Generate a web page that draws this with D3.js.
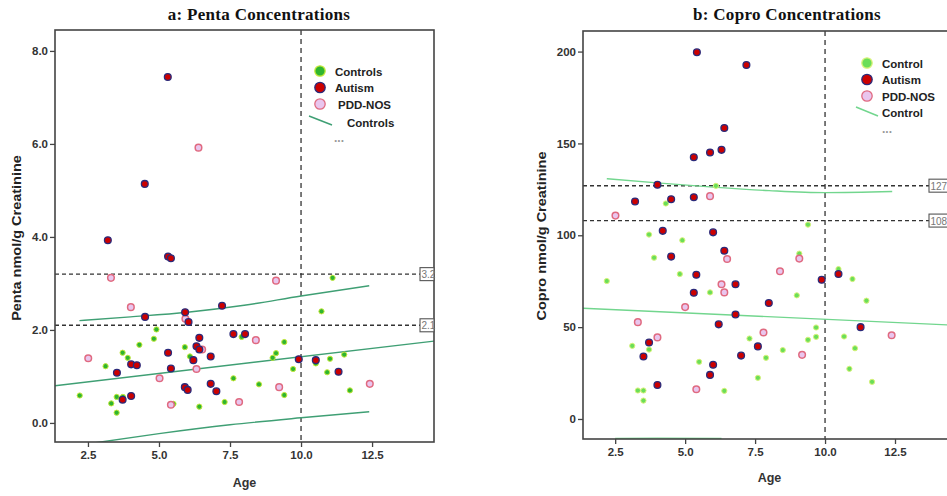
<!DOCTYPE html>
<html>
<head>
<meta charset="utf-8">
<script src="https://cdn.jsdelivr.net/npm/d3@7"></script>
<style>
  body { margin: 0; background: #fff; }
  svg { display: block; }
</style>
</head>
<body>
<div id="chart"></div>
<script>

  // ---- data: [age, value] ----
  var pentaControls = [
    [2.21,0.59],[3.12,1.22],[3.32,0.42],[3.51,0.56],[3.51,0.22],[3.72,1.51],[3.73,0.56],
    [3.90,1.40],[4.31,1.68],[4.82,1.81],[4.91,2.01],[5.51,0.41],[5.91,1.63],[6.09,1.43],
    [6.42,0.35],[7.31,0.45],[7.62,0.96],[7.91,1.85],[8.52,0.83],[9.00,1.40],[9.12,1.50],
    [9.41,1.74],[9.41,0.60],[9.72,1.16],[10.72,2.40],[10.52,1.28],[10.92,1.09],[11.02,1.38],
    [11.11,3.12],[11.52,1.47],[11.72,0.70]
  ];
  var pentaAutism = [
    [5.31,7.44],[4.50,5.14],[3.20,3.93],[5.32,3.58],[5.42,3.54],[4.51,2.28],[3.52,1.08],
    [3.72,0.50],[4.02,1.26],[4.22,1.24],[4.02,0.58],[5.32,1.51],[5.42,1.17],[5.92,2.38],
    [6.04,2.17],[5.91,0.77],[6.01,0.71],[6.21,1.35],[6.32,1.65],[6.42,1.83],[6.42,1.58],
    [6.82,1.43],[6.82,0.84],[7.02,0.68],[7.22,2.52],[7.62,1.91],[8.03,1.91],[9.92,1.37],
    [10.52,1.35],[11.32,1.10]
  ];
  var pentaPdd = [
    [6.39,5.92],[2.51,1.39],[3.31,3.12],[4.01,2.49],[5.02,0.96],[5.42,0.39],[5.93,2.24],
    [6.32,1.16],[6.52,1.58],[7.82,0.45],[8.41,1.78],[9.12,3.06],[9.23,0.77],[12.42,0.84]
  ];
  var pentaFit   = [[1.34,0.80],[14.68,1.76]];
  var pentaUpper = [[2.2,2.20],[4,2.28],[6,2.38],[8,2.53],[10,2.73],[12.4,2.95]];
  var pentaLower = [[2.6,-0.44],[5,-0.23],[7.5,-0.04],[10,0.11],[12.4,0.24]];
  var pentaCutoffs = [3.2, 2.1];
  var pentaTicks = [0, 2, 4, 6, 8];

  var coproControls = [
    [6.10,126.9],[4.31,117.3],[3.71,100.4],[4.90,97.3],[9.39,105.8],[2.20,75.1],[3.89,87.8],
    [4.81,78.9],[5.89,68.9],[9.08,90.0],[8.99,67.3],[10.48,81.6],[10.98,76.2],[11.48,64.4],
    [3.11,39.8],[3.71,37.8],[3.31,15.5],[3.51,15.5],[3.51,10.0],[5.50,31.1],[6.40,15.3],
    [7.30,43.8],[7.60,22.4],[7.89,33.3],[8.49,37.5],[9.39,43.1],[9.68,49.8],[9.68,44.7],
    [10.68,44.9],[11.07,38.5],[10.87,27.3],[11.68,20.2]
  ];
  var coproAutism = [
    [5.42,199.6],[7.19,192.7],[6.40,158.4],[5.31,142.5],[5.89,145.1],[6.30,146.5],[4.01,127.5],
    [3.21,118.4],[4.50,119.6],[5.31,120.7],[4.20,102.4],[6.00,101.6],[4.50,88.4],[6.40,91.6],
    [5.40,78.5],[5.31,68.7],[6.80,73.3],[6.80,56.9],[7.99,63.1],[6.20,51.5],[3.71,41.6],
    [3.51,34.0],[7.00,34.5],[7.60,39.5],[6.00,29.5],[5.89,24.0],[4.01,18.5],[9.88,75.8],
    [10.48,78.9],[11.27,50.0]
  ];
  var coproPdd = [
    [2.51,110.7],[5.89,121.3],[6.50,87.1],[6.30,73.3],[6.40,68.9],[5.00,60.9],[3.31,52.7],
    [4.01,44.4],[7.80,47.1],[8.39,80.4],[9.08,87.3],[9.18,34.9],[5.40,16.2],[12.38,45.6]
  ];
  var coproFit   = [[1.35,60.3],[14.68,51.0]];
  var coproUpper = [[2.2,130.8],[4,128.5],[6,126.2],[8,124.3],[10,123.2],[12.4,123.8]];
  var coproLower = [[2.5,-10.6],[4,-10.4],[6.3,-10.6]];
  var coproCutoffs = [127, 108];
  var coproTicks = [0, 50, 100, 150, 200];

  var xTicks = [2.5, 5.0, 7.5, 10.0, 12.5];

  var svg = d3.select('#chart')
              .append('svg')
              .attr('width', 947)
              .attr('height', 496)
              .style('font-family', 'Liberation Sans, Arial, sans-serif');

  function panel(opt){
    var x = d3.scaleLinear().domain(opt.xDomain).range(opt.xRange);
    var y = d3.scaleLinear().domain(opt.yDomain).range(opt.yRange);
    var g = svg.append('g');
    var x0 = opt.xRange[0], x1 = opt.xRange[1], y0 = opt.yRange[1], y1 = opt.yRange[0];

    g.append('clipPath').attr('id', opt.id + 'clip')
      .append('rect').attr('x', x0).attr('y', y0).attr('width', x1 - x0).attr('height', y1 - y0);
    var inner = g.append('g').attr('clip-path', 'url(#' + opt.id + 'clip)');

    // title
    g.append('text')
      .attr('x', opt.titleX).attr('y', 20)
      .attr('text-anchor', 'middle')
      .style('font-family', 'Liberation Serif, Times New Roman, serif')
      .style('font-weight', 'bold').style('font-size', '17px').style('fill', '#111')
      .style('letter-spacing', '0.3px')
      .text(opt.title);

    // axes
    var yAxis = g.append('g').attr('transform', 'translate(' + x0 + ',0)')
      .call(d3.axisLeft(y).tickValues(opt.yTicks).tickFormat(opt.yFormat).tickSize(5).tickPadding(2));
    var xAxis = g.append('g').attr('transform', 'translate(0,' + y1 + ')')
      .call(d3.axisBottom(x).tickValues(xTicks).tickFormat(d3.format('.1f')).tickSize(5).tickPadding(4));
    [xAxis, yAxis].forEach(function(a){
      a.select('.domain').remove();
      a.selectAll('line').style('stroke', '#444').style('stroke-width', 1.3);
      a.selectAll('text').style('font-size', '11.5px').style('font-weight', 'bold')
        .style('fill', '#333').style('font-family', 'Liberation Sans, Arial, sans-serif');
    });

    // frame
    g.append('rect')
      .attr('x', x0).attr('y', y0).attr('width', x1 - x0).attr('height', y1 - y0)
      .style('fill', 'none').style('stroke', '#444').style('stroke-width', 1.6);

    // axis titles
    g.append('text')
      .attr('x', (x0 + x1) / 2).attr('y', opt.ageY)
      .attr('text-anchor', 'middle')
      .style('font-size', '12.5px').style('font-weight', 'bold').style('fill', '#333')
      .text('Age');
    g.append('text')
      .attr('transform', 'translate(' + opt.yLabelX + ',' + opt.yLabelY + ') rotate(-90) scale(1.16,1)')
      .attr('text-anchor', 'middle')
      .style('font-size', '12.5px').style('font-weight', 'bold').style('fill', '#222')
      .text(opt.yLabel);

    // reference lines
    inner.append('line')
      .attr('x1', x(10)).attr('x2', x(10)).attr('y1', y0).attr('y2', y1)
      .style('stroke', '#333').style('stroke-width', 1.3).style('stroke-dasharray', '5,4');
    inner.selectAll('.cut')
      .data(opt.cutoffs)
      .enter().append('line').attr('class', 'cut')
      .attr('x1', x0).attr('x2', opt.boxX)
      .attr('y1', function(d){ return y(d); }).attr('y2', function(d){ return y(d); })
      .style('stroke', '#333').style('stroke-width', 1.4).style('stroke-dasharray', '4,3');
    var lab = g.selectAll('.cutlab')
      .data(opt.cutoffs)
      .enter().append('g').attr('class', 'cutlab')
      .attr('transform', function(d){ return 'translate(' + opt.boxX + ',' + y(d) + ')'; });
    lab.append('rect')
      .attr('x', 0).attr('y', -6.5).attr('width', opt.boxW).attr('height', 13)
      .style('fill', '#fff').style('stroke', '#555').style('stroke-width', 1.1);
    lab.append('text')
      .attr('x', 1.5).attr('y', 4)
      .style('font-size', '10px').style('fill', '#777')
      .text(function(d){ return d; });

    // fit lines
    var line = d3.line().x(function(d){ return x(d[0]); }).y(function(d){ return y(d[1]); })
                 .curve(d3.curveMonotoneX);
    [opt.fit, opt.upper, opt.lower].forEach(function(l){
      inner.append('path').attr('d', line(l))
        .style('fill', 'none').style('stroke', opt.lineColor).style('stroke-width', 1.4);
    });

    // points
    function dots(data, r, fill, stroke, sw){
      inner.append('g').selectAll('circle')
        .data(data)
        .enter().append('circle')
        .attr('cx', function(d){ return x(d[0]); })
        .attr('cy', function(d){ return y(d[1]); })
        .attr('r', r)
        .style('fill', fill).style('stroke', stroke).style('stroke-width', sw);
    }
    dots(opt.controls, 2.6, opt.ctrlFill, opt.ctrlStroke, 1);
    dots(opt.pdd, 3.3, '#e9c6ee', '#e06a80', 1.5);
    dots(opt.autism, 3.4, '#cc0000', '#2b2a7a', 1.3);

    // legend
    var lg = g.append('g').attr('transform', 'translate(' + opt.legX + ',' + opt.legY + ')');
    var items = [
      {label: opt.legCtrl, fill: opt.ctrlFill, stroke: opt.ctrlStroke, dx: 0},
      {label: 'Autism', fill: '#cc0000', stroke: '#2b2a7a', dx: 0},
      {label: 'PDD-NOS', fill: '#e9c6ee', stroke: '#e06a80', dx: opt.pddDx}
    ];
    items.forEach(function(it, i){
      lg.append('circle').attr('cx', 0).attr('cy', i * opt.legStep).attr('r', 5.2)
        .style('fill', it.fill).style('stroke', it.stroke).style('stroke-width', 1.3);
      lg.append('text').attr('x', 15 + it.dx).attr('y', i * opt.legStep + 4.5)
        .style('font-size', '11.5px').style('font-weight', 'bold').style('fill', '#222')
        .text(it.label);
    });
    lg.append('line')
      .attr('x1', opt.legLine[0]).attr('y1', opt.legLine[1])
      .attr('x2', opt.legLine[2]).attr('y2', opt.legLine[3])
      .style('stroke', opt.lineColor).style('stroke-width', 1.5);
    lg.append('text').attr('x', opt.legLineText[0]).attr('y', opt.legLineText[1])
      .style('font-size', '11.5px').style('font-weight', 'bold').style('fill', '#222')
      .text(opt.legCtrlLine);
    lg.append('text').attr('x', opt.legDots[0]).attr('y', opt.legDots[1])
      .style('font-size', '12px').style('font-weight', 'bold').style('fill', '#999')
      .text('...');
  }

  panel({
    id: 'a', title: 'a: Penta Concentrations', titleX: 259,
    xDomain: [1.34, 14.68], xRange: [55, 434],
    yDomain: [-0.41, 8.45], yRange: [442, 30],
    yTicks: pentaTicks, yFormat: d3.format('.1f'),
    yLabel: 'Penta nmol/g Creatinine', yLabelX: 21, yLabelY: 238, ageY: 487,
    cutoffs: pentaCutoffs, boxX: 420, boxW: 14,
    fit: pentaFit, upper: pentaUpper, lower: pentaLower, lineColor: '#3f9f74',
    controls: pentaControls, autism: pentaAutism, pdd: pentaPdd,
    ctrlFill: '#2fb52f', ctrlStroke: '#c4e83a',
    legX: 320, legY: 71, legStep: 16.5, pddDx: 3,
    legCtrl: 'Controls', legCtrlLine: 'Controls',
    legLine: [-11, 45, 12, 54], legLineText: [27, 56], legDots: [14, 71]
  });

  panel({
    id: 'b', title: 'b: Copro Concentrations', titleX: 787,
    xDomain: [1.35, 14.68], xRange: [583, 956],
    yDomain: [-10.9, 211.2], yRange: [439, 31],
    yTicks: coproTicks, yFormat: d3.format('d'),
    yLabel: 'Copro nmol/g Creatinine', yLabelX: 546, yLabelY: 236, ageY: 482,
    cutoffs: coproCutoffs, boxX: 929, boxW: 22,
    fit: coproFit, upper: coproUpper, lower: coproLower, lineColor: '#72d68e',
    controls: coproControls, autism: coproAutism, pdd: coproPdd,
    ctrlFill: '#6ade58', ctrlStroke: '#d8f27a',
    legX: 867, legY: 63, legStep: 16.5, pddDx: 0,
    legCtrl: 'Control', legCtrlLine: 'Control',
    legLine: [-11, 44, 11, 53], legLineText: [15, 54], legDots: [15, 70]
  });

</script>
</body>
</html>
